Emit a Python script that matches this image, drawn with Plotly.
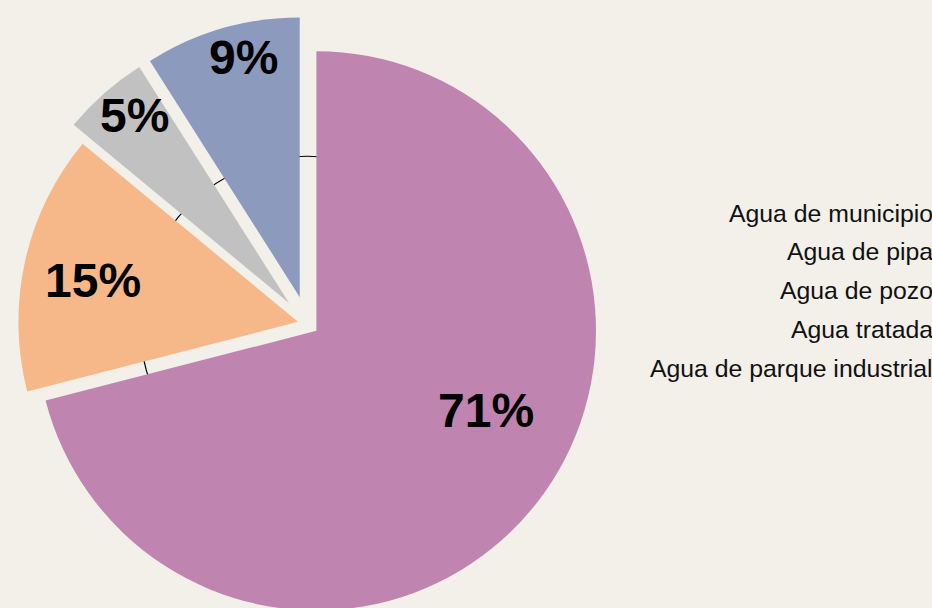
import math
import plotly.graph_objects as go

# ---- data ----
labels = ["Agua de municipio", "Agua de pipa", "Agua de pozo", "Agua tratada", "Agua de parque industrial"]
values = [71, 15, 5, 9, 0]

# ---- style ----
colors = ["#c084b0", "#f7b889", "#c1c1c1", "#8c9abe", "#e0d5c8"]
pulls = [0.04, 0.035, 0.1, 0.1, 0.0]
# label placement: radial fraction of radius and angular offset (deg) from slice mid-angle
label_rho = [0.672, 0.748, 0.867, 0.879, 0.5]
label_dtheta = [-12.6, -1.3, 1.9, 3.0, 0.0]

W, H = 932, 648
BG = "#f3efe9"
DOM_X = [0.0, 0.66]
DOM_Y = [0.0, 1.0]
LEGEND_TOP_PX = 213
LEGEND_STEP_PX = 38.8
FONT = "Liberation Sans, Arial, Helvetica, sans-serif"

total = sum(values)
texts = [f"{round(v / total * 100)}%" if v > 0 else "" for v in values]

fig = go.Figure()
fig.add_trace(go.Pie(
    labels=labels,
    values=values,
    textinfo="none",
    marker=dict(colors=colors, line=dict(width=0)),
    pull=pulls,
    sort=False,
    direction="clockwise",
    rotation=0,
    domain=dict(x=DOM_X, y=DOM_Y),
    hoverinfo="skip",
    showlegend=False,
))

# pie geometry (same rule plotly uses) to place shapes / labels
box_w = W * (DOM_X[1] - DOM_X[0])
box_h = H * (DOM_Y[1] - DOM_Y[0])
r_px = min(box_w, box_h) / (2 + 2 * max(pulls))
cx_px = W * (DOM_X[0] + DOM_X[1]) / 2
cy_px = H * (1 - (DOM_Y[0] + DOM_Y[1]) / 2)

# thin reference circle behind the pie (visible only in the gaps)
ring = 0.6 * r_px
fig.add_shape(type="circle", xref="paper", yref="paper",
              x0=(cx_px - ring) / W, x1=(cx_px + ring) / W,
              y0=1 - (cy_px + ring) / H, y1=1 - (cy_px - ring) / H,
              line=dict(color="#000000", width=1.2), layer="below")

# percentage labels
cum = 0.0
for i, v in enumerate(values):
    start = cum / total * 360
    cum += v
    end = cum / total * 360
    if v <= 0:
        continue
    mid = math.radians((start + end) / 2)
    scx = cx_px + pulls[i] * r_px * math.sin(mid)
    scy = cy_px - pulls[i] * r_px * math.cos(mid)
    ang = math.radians((start + end) / 2 + label_dtheta[i])
    lx = scx + label_rho[i] * r_px * math.sin(ang)
    ly = scy - label_rho[i] * r_px * math.cos(ang)
    fig.add_annotation(
        x=lx / W, y=1 - ly / H, xref="paper", yref="paper",
        xanchor="center", yanchor="middle", showarrow=False,
        text=texts[i],
        font=dict(family=FONT, size=48, color="#000000", weight="bold"),
    )

# right-aligned legend text (no symbols)
for i, lab in enumerate(labels):
    fig.add_annotation(
        x=1.0, xref="paper", xanchor="right", xshift=3,
        y=1 - (LEGEND_TOP_PX + i * LEGEND_STEP_PX) / H, yref="paper", yanchor="middle",
        text=lab, showarrow=False, align="right",
        font=dict(family=FONT, size=24.8, color="#111111"),
    )

fig.update_layout(
    width=W, height=H,
    margin=dict(l=0, r=0, t=0, b=0),
    paper_bgcolor=BG, plot_bgcolor=BG,
    showlegend=False,
)

fig.write_html("out.html", config={"displayModeBar": False},
               post_script="document.body.style.margin='0';document.body.style.overflow='hidden';")
